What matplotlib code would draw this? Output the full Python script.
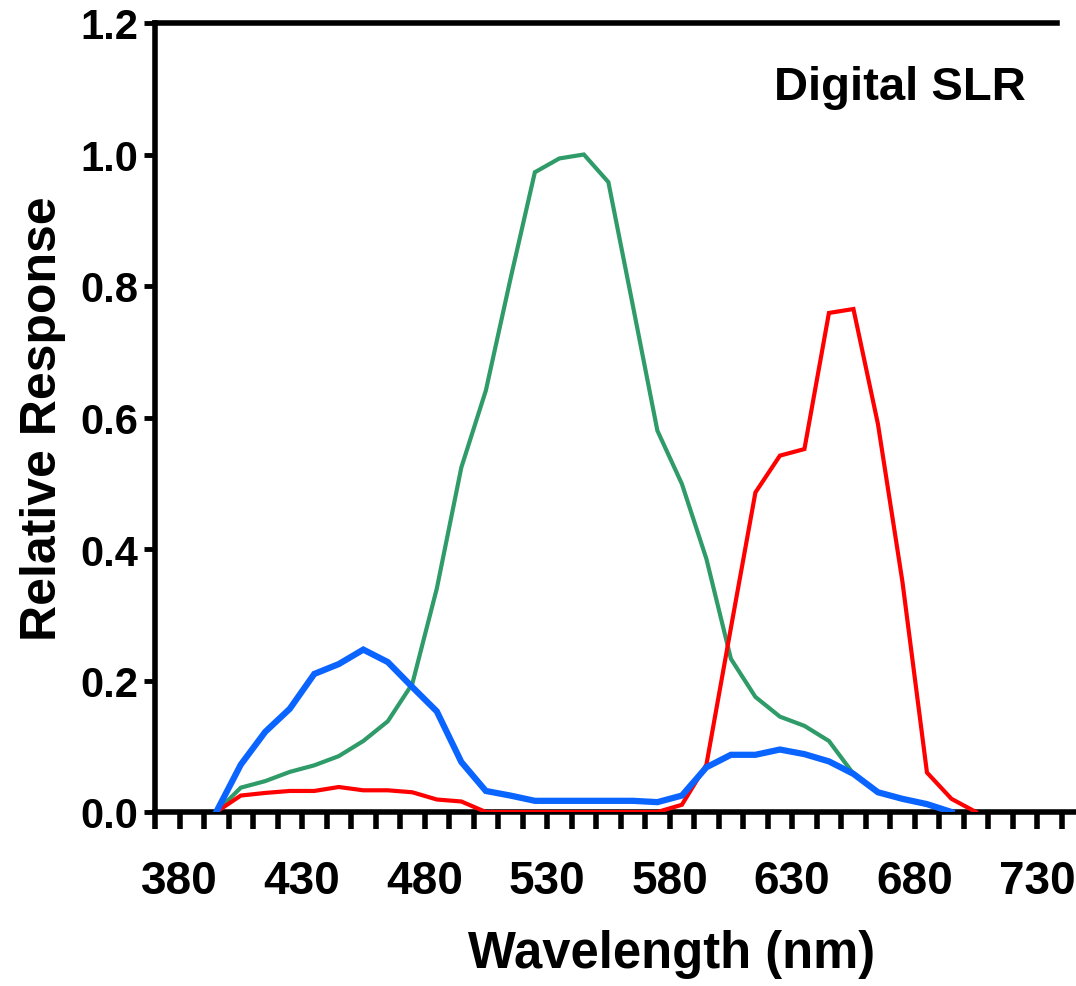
import matplotlib
matplotlib.use("Agg")
import matplotlib.pyplot as plt
import numpy as np

plt.rcParams['font.family'] = ['Liberation Sans', 'DejaVu Sans']
plt.rcParams['font.weight'] = 'bold'

wavelength = [395, 405, 415, 425, 435, 445, 455, 465, 475, 485, 495, 505, 515, 525,
              535, 545, 555, 565, 575, 585, 595, 605, 615, 625, 635, 645, 655, 665,
              675, 685, 695, 705]

green = [0.0, 0.037, 0.047, 0.061, 0.071, 0.085, 0.108, 0.138, 0.195, 0.34, 0.524, 0.641,
         0.81, 0.973, 0.994, 1.0, 0.958, 0.77, 0.58, 0.499, 0.385, 0.233, 0.175, 0.145,
         0.131, 0.108, 0.058, 0.03, 0.02, 0.011, 0.0, None]

red = [0.0, 0.025, 0.029, 0.032, 0.032, 0.038, 0.033, 0.033, 0.03, 0.019, 0.016, 0.0,
       0.0, 0.0, 0.0, 0.0, 0.0, 0.0, 0.0, 0.011, 0.072, 0.28, 0.486, 0.542, 0.552,
       0.759, 0.765, 0.59, 0.35, 0.06, 0.02, 0.0]

blue = [0.0, 0.072, 0.122, 0.157, 0.21, 0.225, 0.247, 0.228, 0.19, 0.153, 0.076, 0.032,
        0.025, 0.017, 0.017, 0.017, 0.017, 0.017, 0.015, 0.025, 0.068, 0.087, 0.087,
        0.095, 0.088, 0.077, 0.058, 0.03, 0.02, 0.012, 0.0, None]

x_labels = [380, 430, 480, 530, 580, 630, 680, 730]

fig = plt.figure(figsize=(10.76, 9.87), dpi=100)
W, H = 1076, 987
left, right, top, bottom = 155, 1074, 24, 813
ax = fig.add_axes([left / W, 1 - bottom / H, (right - left) / W, (bottom - top) / H])

def clean(xs, ys):
    pts = [(a, b) for a, b in zip(xs, ys) if b is not None]
    return [p[0] for p in pts], [p[1] for p in pts]

gx, gy = clean(wavelength, green)
rx, ry = clean(wavelength, red)
bx, by = clean(wavelength, blue)

ax.plot(gx, gy, color='#2f9b68', lw=3.0, solid_joinstyle='miter', zorder=3)
ax.plot(rx, ry, color='#ff0000', lw=3.0, solid_joinstyle='miter', zorder=4)
ax.plot(bx, by, color='#0a64ff', lw=4.5, solid_joinstyle='miter', zorder=5)

ax.set_xlim(370, 745)
ax.set_ylim(0, 1.2)

ax.spines['right'].set_visible(False)
for s in ['left', 'bottom', 'top']:
    ax.spines[s].set_linewidth(4)
ax.spines['top'].set_bounds(370, 738)

xt = list(range(370, 741, 10))
ax.set_xticks(xt)
ax.set_xticklabels([str(v) if v in x_labels else '' for v in xt])
ax.tick_params(axis='x', direction='out', length=12, width=4, pad=22,
               labelsize=33)
ax.set_yticks([0.0, 0.2, 0.4, 0.6, 0.8, 1.0, 1.2])
ax.set_yticklabels(['0.0', '0.2', '0.4', '0.6', '0.8', '1.0', '1.2'])
ax.tick_params(axis='y', direction='out', length=8, width=3.5, pad=4,
               labelsize=30)
for lab in ax.get_xticklabels() + ax.get_yticklabels():
    lab.set_fontweight('bold')

ax.set_xlabel('Wavelength (nm)', fontsize=36.5, fontweight='bold')
ax.xaxis.set_label_coords((672 - left) / (right - left), -0.148)
ax.set_ylabel('Relative Response', fontsize=36, fontweight='bold', labelpad=10)

ax.text(674, 1.103, 'Digital SLR', fontsize=34, fontweight='bold',
        ha='center', va='center')

fig.savefig('out.png', dpi=100)
